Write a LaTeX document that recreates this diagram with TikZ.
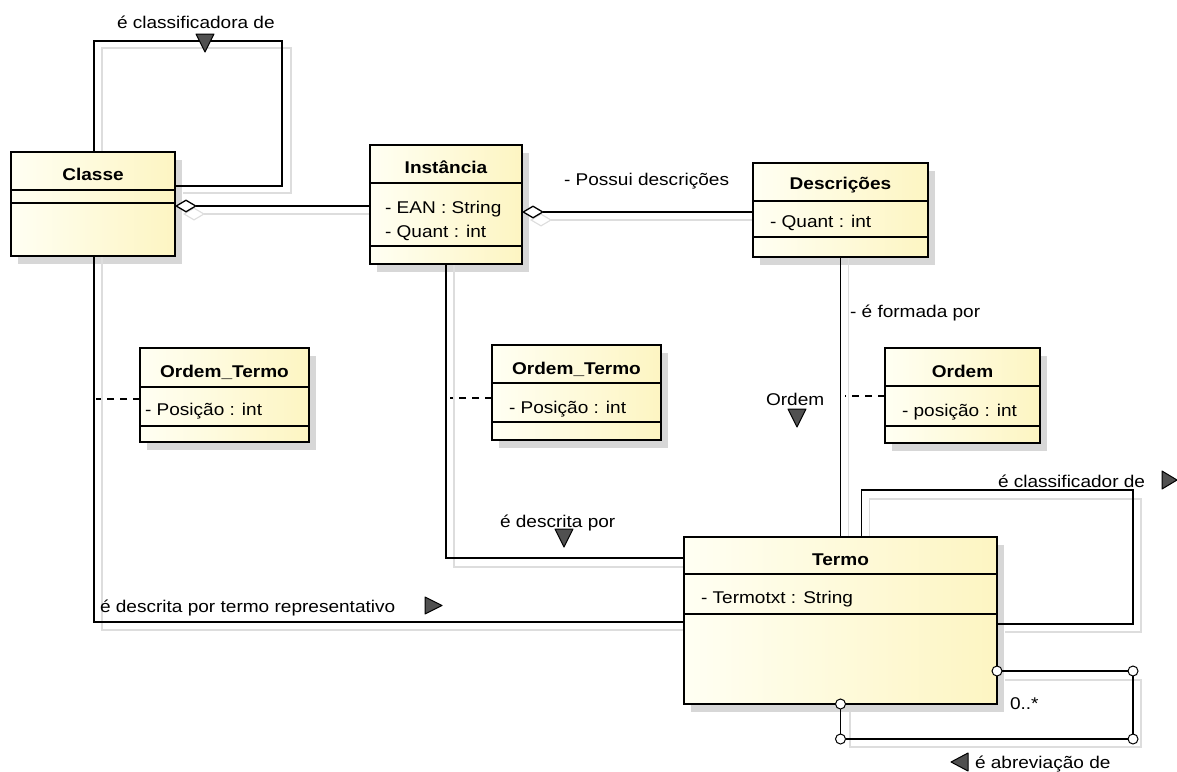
\documentclass[tikz,border=0pt]{standalone}
\usepackage{fontspec}
\setmainfont[FakeStretch=1.12]{Liberation Sans}
\usetikzlibrary{arrows.meta,calc}
\definecolor{creamL}{HTML}{FFFFF3}
\definecolor{creamR}{HTML}{FDF5C2}
\definecolor{shade}{HTML}{D7D7D7}
\definecolor{ghost}{HTML}{DDDDDD}
\definecolor{trifill}{HTML}{505050}
\pgfdeclarelayer{shadows}
\pgfdeclarelayer{wires}
\pgfsetlayers{shadows,wires,main}

% class frame: name, x, y, width, height, first divider, second divider
\newcommand\classframe[7]{%
  \begin{pgfonlayer}{shadows}
    \fill[boxshadow] (#2+7,#3+8) rectangle (#2+#4+7,#3+#5+8);
  \end{pgfonlayer}
  \node[umlbox, minimum width=#4pt, minimum height=#5pt] (#1) at (#2,#3) {};
  \draw[divider] ($(#1.north west)+(0,#6)$) -- ($(#1.north east)+(0,#6)$);
  \draw[divider] ($(#1.north west)+(0,#7)$) -- ($(#1.north east)+(0,#7)$);
}

\begin{document}
\begin{tikzpicture}[x=1pt,y=-1pt,
  every node/.style={font=\fontsize{17}{20}\selectfont, inner sep=0pt, outer sep=0pt},
  umlbox/.style={draw, line width=2.4pt, left color=creamL, right color=creamR, anchor=north west},
  boxshadow/.style={fill=shade},
  divider/.style={line width=1.2pt},
  link/.style={line width=1.3pt},
  ghostlink/.style={draw=ghost, line width=1.1pt},
  assoc/.style={line width=1.1pt, dash pattern=on 7pt off 6pt},
  title/.style={font=\fontsize{17}{20}\selectfont\bfseries, anchor=base},
  attr/.style={anchor=base west},
  lbl/.style={anchor=base west},
  navtri/.style={fill=trifill, draw=black, line width=1pt, line join=round},
  joint/.style={circle, draw, fill=white, line width=1pt, minimum size=10pt},
  agg/.style={{Diamond[fill=white, length=22pt, width=13pt, line width=1.3pt]}-},
  ghostagg/.style={{Diamond[fill=white, length=22pt, width=13pt, line width=1.1pt]}-},
]
\useasboundingbox (0,0) rectangle (1177,771);

% ---- classes
\classframe{classe}{11}{152}{164}{104}{38}{51}
\classframe{instancia}{370}{145}{152}{119}{38}{101}
\classframe{descricoes}{753}{163}{175}{94}{38}{74}
\classframe{otA}{140}{348}{169}{94}{39}{78}
\classframe{otB}{492}{345}{169}{95}{38}{77}
\classframe{ordem}{885}{348}{155}{95}{38}{78}
\classframe{termo}{684}{537}{313}{167}{37}{77}

\node[title] (classeT) at ($(classe.north)+(0,28)$) {Classe};
\node[title] (instanciaT) at ($(instancia.north)+(0,28)$) {Instância};
\node[title] (descricoesT) at ($(descricoes.north)+(0,26)$) {Descrições};
\node[title] (otAT) at ($(otA.north)+(0,29)$) {Ordem\_Termo};
\node[title] (otBT) at ($(otB.north)+(0,29)$) {Ordem\_Termo};
\node[title] (ordemT) at ($(ordem.north)+(0,29)$) {Ordem};
\node[title] (termoT) at ($(termo.north)+(0,28)$) {Termo};

\node[attr] (instA1) at (385,213) {- EAN : String};
\node[attr] (instA2) at (385,237) {- Quant : int};
\node[attr] (descA1) at (770,227) {- Quant : int};
\node[attr] (otAA1) at (145,415) {- Posição : int};
\node[attr] (otBA1) at (509,413) {- Posição : int};
\node[attr] (ordemA1) at (902,416) {- posição : int};
\node[attr] (termoA1) at (701,603) {- Termotxt : String};

% ---- connectors
\begin{pgfonlayer}{wires}
  % soft echoes of the connectors
  \draw[ghostlink] ([xshift=9pt]classe.north) |- (291,48) |- (183,193);
  \draw[ghostlink, ghostagg] (183,214) -- (370,214);
  \draw[ghostlink, ghostagg] (530,220) -- (765,220);
  \draw[ghostlink] ([xshift=8pt]descricoes.south) -- ([xshift=8pt]descricoes.south |- termo.north);
  \draw[ghostlink] ([xshift=29pt]termo.north) |- (1141,499) |- (1005,632);
  \draw[ghostlink] ([xshift=9pt]classe.south) |- (690,630);
  \draw[ghostlink] ([xshift=8pt]instancia.south) |- (690,567);
  \draw[ghostlink] (1005,680) -| (1141,747) -| (850,712);

  % Classe classifies Classe
  \draw[link] ([xshift=1pt]classe.north) |- (282,41) |- ([yshift=18pt]classe.east);
  % aggregations
  \draw[link, agg] ([yshift=-2pt]classe.east) -- ([yshift=-2pt]classe.east -| instancia.west);
  \draw[link, agg] ([yshift=-7.5pt]instancia.east) -- ([yshift=-7.5pt]instancia.east -| descricoes.west);
  % Descrições formed by Termo
  \draw[link] (descricoes.south) -- (termo.north);
  % Termo classifies Termo
  \draw[link] ([xshift=21pt]termo.north) |- (1133,490) |- ([yshift=-3.5pt]termo.east);
  % Classe described by representative Termo
  \draw[link] ([xshift=1pt]classe.south) |- ([yshift=-1.5pt]termo.west);
  % Instância described by Termo
  \draw[link] (instancia.south) |- ([yshift=62.5pt]termo.west);

  % association classes
  \coordinate (dA) at ([yshift=-4pt]otA.west);
  \coordinate (dB) at ([yshift=-5.5pt]otB.west);
  \coordinate (dC) at ([yshift=-0.5pt]ordem.west);
  \draw[assoc] (dA) -- ([xshift=3pt]dA -| classe.south);
  \draw[assoc] (dB) -- ([xshift=4pt]dB -| instancia.south);
  \draw[assoc] (dC) -- ([xshift=4pt]dC -| descricoes.south);
\end{pgfonlayer}

% abbreviation loop with its joints
\node[joint] (j1) at ([yshift=-50.5pt]termo.east) {};
\node[joint] (j2) at (1133,671) {};
\node[joint] (j3) at (1133,739) {};
\node[joint] (j5) at (termo.south) {};
\node[joint] (j4) at (j5 |- j3) {};
\begin{pgfonlayer}{wires}
  \draw[link] (j1) -- (j2) -- (j3) -- (j4) -- (j5);
\end{pgfonlayer}

% ---- labels
\node[lbl] (l1) at (117,28) {é classificadora de};
\node[lbl] (l2) at (564,185) {- Possui descrições};
\node[lbl] (l3) at (850,317) {- é formada por};
\node[lbl] (l4) at (766,405) {Ordem};
\node[lbl] (l5) at (998,487) {é classificador de};
\node[lbl] (l6) at (500,527) {é descrita por};
\node[lbl] (l7) at (100,612) {é descrita por termo representativo};
\node[lbl] (l8) at (1010,709) {0..*};
\node[lbl] (l9) at (975,768) {é abreviação de};

% ---- reading-direction triangles
\draw[navtri] (196,34) -- (214,34) -- (205,52) -- cycle;
\draw[navtri] (788,409) -- (806,409) -- (797,427) -- cycle;
\draw[navtri] (555,529) -- (573,529) -- (564,547) -- cycle;
\draw[navtri] (425,597) -- (425,614) -- (442,605.5) -- cycle;
\draw[navtri] (1162,471) -- (1162,489) -- (1177,480) -- cycle;
\draw[navtri] (968,753) -- (968,771) -- (951,762) -- cycle;
\end{tikzpicture}
\end{document}
